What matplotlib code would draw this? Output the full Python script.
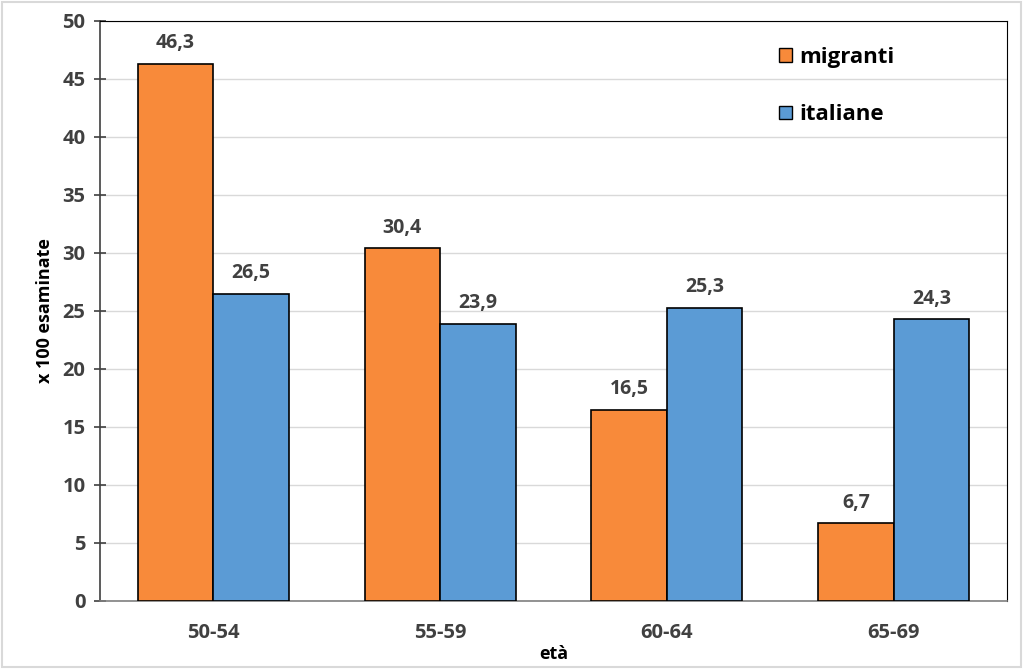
import matplotlib.pyplot as plt
import numpy as np
from matplotlib.patches import Patch

plt.rcParams['font.family'] = ['Open Sans', 'DejaVu Sans']
plt.rcParams['font.weight'] = 'bold'

eta = ['50-54', '55-59', '60-64', '65-69']
migranti = [46.3, 30.4, 16.5, 6.7]
italiane = [26.5, 23.9, 25.3, 24.3]

col_m = '#F88A3A'
col_i = '#5B9BD5'
grigio = '#404040'

fig = plt.figure(figsize=(10.24, 6.69), dpi=100)
ax = fig.add_axes([100/1024, 68/669, 907/1024, 580/669])

x = np.arange(len(eta))
w = 1/3
ax.bar(x - w/2, migranti, w, color=col_m, edgecolor='black', linewidth=1.2, zorder=3)
ax.bar(x + w/2, italiane, w, color=col_i, edgecolor='black', linewidth=1.2, zorder=3)

for i in range(len(eta)):
    ax.text(x[i] - w/2, migranti[i] + 0.9, f'{migranti[i]:.1f}'.replace('.', ','),
            ha='center', va='bottom', fontsize=14, color=grigio, fontweight='bold')
    ax.text(x[i] + w/2, italiane[i] + 0.9, f'{italiane[i]:.1f}'.replace('.', ','),
            ha='center', va='bottom', fontsize=14, color=grigio, fontweight='bold')

ax.set_xlim(-0.5, 3.5)
ax.set_ylim(0, 50)
ax.set_yticks(np.arange(0, 51, 5))
ax.set_xticks(x)
ax.set_xticklabels(eta)
ax.grid(axis='y', color='#D9D9D9', linewidth=1, zorder=0)
ax.set_axisbelow(True)

ax.tick_params(axis='y', direction='inout', length=9, width=1.2, colors=grigio,
               labelsize=14.5, pad=6)
ax.tick_params(axis='x', length=0, colors=grigio, labelsize=14.5, pad=16)
for lab in ax.get_xticklabels() + ax.get_yticklabels():
    lab.set_fontweight('bold')

ax.spines['left'].set_color(grigio)
ax.spines['left'].set_linewidth(1.2)
ax.spines['bottom'].set_color('#7F7F7F')
ax.spines['bottom'].set_linewidth(1.2)
ax.spines['top'].set_color('black')
ax.spines['right'].set_color('black')

ax.set_ylabel('x 100 esaminate', fontsize=13, fontweight='bold', color='black', labelpad=6)
ax.set_xlabel('età', fontsize=13, fontweight='bold', color='black', labelpad=1)

handles = [Patch(facecolor=col_m, edgecolor='black', label='migranti'),
           Patch(facecolor=col_i, edgecolor='black', label='italiane')]
leg = ax.legend(handles=handles, loc='upper left', bbox_to_anchor=(0.727, 0.99),
                frameon=False, handlelength=0.55, handleheight=0.55, handletextpad=0.35,
                labelspacing=1.65, prop={'size': 16, 'weight': 'bold'})

# bordo esterno grigio chiaro
fig.patches.append(plt.Rectangle((0.002, 0.003), 0.995, 0.994, transform=fig.transFigure,
                                 fill=False, edgecolor='#D9D9D9', linewidth=1.5))

fig.savefig('out.png', dpi=100)
